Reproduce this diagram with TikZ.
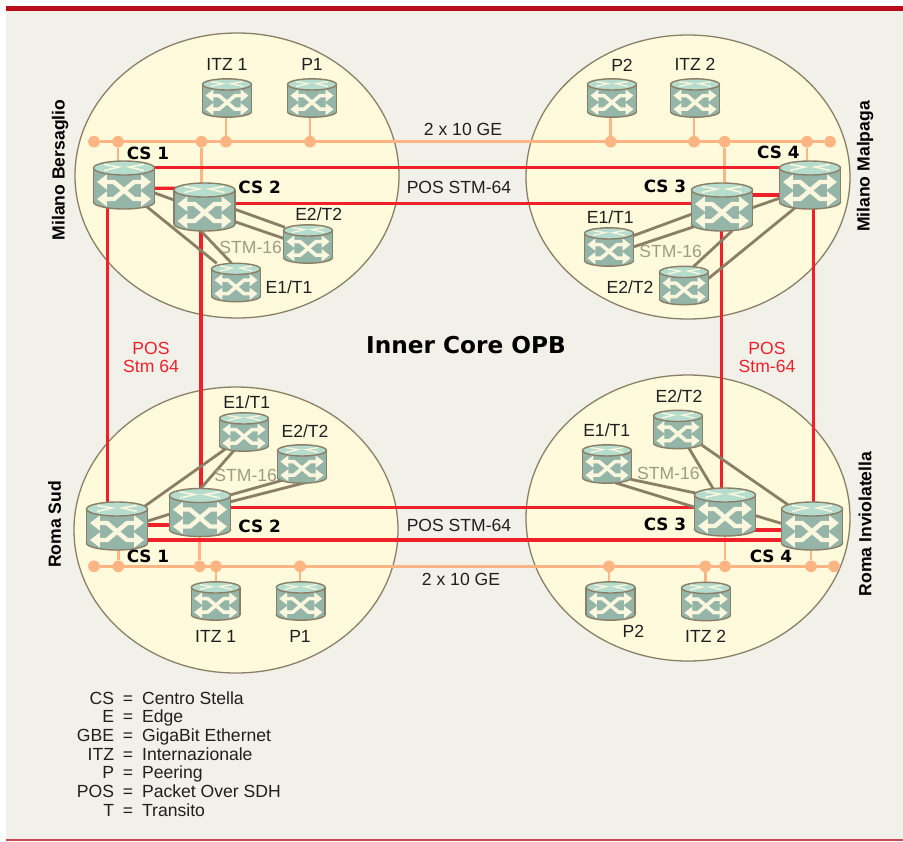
\documentclass[tikz,border=0pt]{standalone}
\usepackage{fontspec}
\setmainfont{Liberation Sans}
\newfontfamily\heavyfont{DejaVu Sans}
\usetikzlibrary{arrows.meta,calc}
\definecolor{paper}{HTML}{F1F0E9}
\definecolor{bar}{HTML}{B80D1A}
\definecolor{sand}{HTML}{FFFADC}
\definecolor{rim}{HTML}{8A7F66}
\definecolor{redl}{HTML}{F0202B}
\definecolor{orangel}{HTML}{FFB484}
\definecolor{body}{HTML}{95B5A9}
\definecolor{lid}{HTML}{B6DCCD}
\definecolor{cream}{HTML}{FAF7DE}
\definecolor{stm}{HTML}{A39A84}
\tikzset{
  area/.style={draw=rim,fill=sand,line width=1.1pt},
  redlink/.style={draw=redl,line width=2.8pt},
  buslink/.style={draw=orangel,line width=2.4pt},
  greylink/.style={draw=rim,line width=2.4pt},
  dot/.style={circle,fill=orangel,minimum size=3.5mm,inner sep=0pt},
  lab/.style={inner sep=0pt,text=black!88,font=\fontsize{15}{15}\selectfont},
  stmlab/.style={lab,text=stm},
  poslab/.style={lab,text=redl,align=center,font=\fontsize{15}{16}\selectfont},
  head/.style={inner sep=0pt,font=\heavyfont\bfseries\fontsize{14.4}{14.4}\selectfont},
  site/.style={inner sep=0pt,rotate=90,font=\bfseries\fontsize{15}{15}\selectfont},
  pics/router/.style={code={
    \begin{scope}[scale=#1]
      \draw[fill=body,draw=rim,line width=1.2pt] (0,17) ellipse (30.5 and 7);
      \fill[body] (-30.5,-17) rectangle (30.5,17);
      \draw[rim,line width=1.2pt] (-30.5,-17) -- (-30.5,17) (30.5,-17) -- (30.5,17);
      \draw[fill=lid,draw=rim,line width=1.2pt] (0,-17) ellipse (30.5 and 7);
      \draw[cream,line width=#1*3.8pt,{Triangle[length=8.5pt,width=12.5pt,scale=#1]}-{Triangle[length=8.5pt,width=12.5pt,scale=#1]}] (-27,-3) -- (-10,-3) -- (10,14) -- (27,14);
      \draw[cream,line width=#1*3.8pt,{Triangle[length=8.5pt,width=12.5pt,scale=#1]}-{Triangle[length=8.5pt,width=12.5pt,scale=#1]}] (-27,14) -- (-10,14) -- (10,-3) -- (27,-3);
      \draw[cream,line width=#1*1.3pt] (-20,-20.5) -- (-5,-18) -- (-20,-14.5);
      \draw[cream,line width=#1*1.3pt] (20,-20.5) -- (5,-18) -- (20,-14.5);
    \end{scope}
  }}
}

\begin{document}
\begin{tikzpicture}[x=0.3mm,y=-0.3mm]

  \useasboundingbox (0,0) rectangle (903,841);
  \fill[white] (0,0) rectangle (903,841);
  \fill[paper] (6,6) rectangle (903,841);
  \fill[bar] (6,6) rectangle (903,11);
  \fill[bar!75] (6,839) rectangle (903,841);

  \draw[area] (237,175.5) ellipse (162 and 142.5);
  \draw[area] (688,177) ellipse (162 and 142);
  \draw[area] (236,530) ellipse (162 and 143);
  \draw[area] (688,518) ellipse (162 and 143);

  % Milano Bersaglio
  \node[] (MB1) at (124,185) {};
  \node[] (MB2) at (204.5,207) {};
  \node[] (MBi) at (227,98) {};
  \node[] (MBp) at (312,98) {};
  \node[] (MBe1) at (236,282.5) {};
  \node[] (MBe2) at (308,244) {};

  % Milano Malpaga
  \node[] (MM3) at (722,207) {};
  \node[] (MM4) at (810,185) {};
  \node[] (MMi) at (695,98) {};
  \node[] (MMp) at (612,98) {};
  \node[] (MMe1) at (609,247) {};
  \node[] (MMe2) at (684,285.5) {};

  % Roma Sud
  \node[] (RS1) at (117,526) {};
  \node[] (RS2) at (200,512.5) {};
  \node[] (RSi) at (215.7,601) {};
  \node[] (RSp) at (300.7,601) {};
  \node[] (RSe1) at (244,432) {};
  \node[] (RSe2) at (302,464) {};

  % Roma Inviolatella
  \node[] (RI3) at (725,512) {};
  \node[] (RI4) at (812,526) {};
  \node[] (RIi) at (706,601.5) {};
  \node[] (RIp) at (610.5,601) {};
  \node[] (RIe1) at (607,464) {};
  \node[] (RIe2) at (678,429.5) {};

  % upper bus
  \node[dot] (T1) at (94,141.7) {};
  \node[dot] (T2) at (118,141.7) {};
  \node[dot] (T3) at (201.5,141.7) {};
  \node[dot] (T4) at (226,141.7) {};
  \node[dot] (T5) at (310,141.7) {};
  \node[dot] (T6) at (610.7,141.7) {};
  \node[dot] (T7) at (694,141.7) {};
  \node[dot] (T8) at (724.7,141.7) {};
  \node[dot] (T9) at (807,141.7) {};
  \node[dot] (T10) at (830,141.7) {};

  % lower bus
  \node[dot] (B1) at (94,566.3) {};
  \node[dot] (B2) at (118.3,566.3) {};
  \node[dot] (B3) at (199.7,566.3) {};
  \node[dot] (B4) at (216,566.3) {};
  \node[dot] (B5) at (300,566.3) {};
  \node[dot] (B6) at (609,566.3) {};
  \node[dot] (B7) at (705.3,566.3) {};
  \node[dot] (B8) at (725,566.3) {};
  \node[dot] (B9) at (811,566.3) {};
  \node[dot] (B10) at (834,566.3) {};

  \draw[buslink] (T1) -- (T10);
  \draw[buslink] (T2) -- (T2 |- MB1);
  \draw[buslink] (T3) -- (T3 |- MB2);
  \draw[buslink] (T4) -- (T4 |- MBi);
  \draw[buslink] (T5) -- (T5 |- MBp);
  \draw[buslink] (T6) -- (T6 |- MMp);
  \draw[buslink] (T7) -- (T7 |- MMi);
  \draw[buslink] (T8) -- (T8 |- MM3);
  \draw[buslink] (T9) -- (T9 |- MM4);

  \draw[buslink] (B1) -- (B10);
  \draw[buslink] (B2) -- (B2 |- RS1);
  \draw[buslink] (B3) -- (B3 |- RS2);
  \draw[buslink] (B4) -- (B4 |- RSi);
  \draw[buslink] (B5) -- (B5 |- RSp);
  \draw[buslink] (B6) -- (B6 |- RIp);
  \draw[buslink] (B7) -- (B7 |- RIi);
  \draw[buslink] (B8) -- (B8 |- RI3);
  \draw[buslink] (B9) -- (B9 |- RI4);

  \draw[redlink] ($(MB1)+(0,-17.3)$) -- ($(MM4)+(0,-17.3)$);
  \draw[redlink] ($(MB2)+(0,-3.5)$) -- ($(MM3)+(0,-3.5)$);
  \draw[redlink] ($(MB1)+(0,3.3)$) -- ($(MB2)+(0,-18.7)$);
  \draw[redlink] ($(MM3)+(0,-12)$) -- ($(MM4)+(0,10)$);
  \draw[redlink] ($(RS2)+(0,-5)$) -- ($(RI3)+(0,-4.5)$);
  \draw[redlink] ($(RS1)+(0,14)$) -- ($(RI4)+(0,14)$);
  \draw[redlink] ($(RS1)+(0,-1)$) -- ($(RS2)+(0,12.5)$);
  \draw[redlink] ($(RI3)+(0,18)$) -- ($(RI4)+(0,4)$);
  \draw[redlink] ($(MB1)+(-16.7,0)$) -- ($(RS1)+(-9.7,0)$);
  \draw[redlink] ($(MB2)+(-3.5,0)$) -- ($(RS2)+(1,0)$);
  \draw[redlink] ($(MM3)+(-0.3,0)$) -- ($(RI3)+(-3.3,0)$);
  \draw[redlink] ($(MM4)+(3.7,0)$) -- ($(RI4)+(1.7,0)$);

  \draw[greylink] ($(MB1)+(30,7.7)$) -- ($(MB2)+(-30.5,-7)$);
  \draw[greylink] ($(MB1)+(22,21)$) -- ($(MBe1)+(-19.3,-19.2)$);
  \draw[greylink] ($(MB2)+(-4.5,23)$) -- ($(MBe1)+(-4.3,-19.2)$);
  \draw[greylink] ($(MB2)+(30.5,2.3)$) -- ($(MBe2)+(-23,-16.7)$);
  \draw[greylink] ($(MB2)+(30.5,14.7)$) -- ($(MBe2)+(-24.7,-5.7)$);

  \draw[greylink] ($(MM3)+(30.3,0.7)$) -- ($(MM4)+(-30.7,13.3)$);
  \draw[greylink] ($(MM3)+(-30.7,7.3)$) -- ($(MMe1)+(24.3,-11.3)$);
  \draw[greylink] ($(MM3)+(-28,19.7)$) -- ($(MMe1)+(25,-0.3)$);
  \draw[greylink] ($(MM3)+(10.3,23.7)$) -- ($(MMe2)+(8.7,-18.2)$);
  \draw[greylink] ($(MM4)+(-14.3,22.3)$) -- ($(MMe2)+(24.7,-7.2)$);

  \draw[greylink] ($(RIe2)+(11,18.8)$) -- ($(RI3)+(-11.7,-23)$);
  \draw[greylink] ($(RIe2)+(23.7,15.5)$) -- ($(RI4)+(-23.7,-21)$);
  \draw[greylink] ($(RIe1)+(23.7,15.3)$) -- ($(RI3)+(-28.3,-18.7)$);
  \draw[greylink] ($(RIe1)+(8,18.7)$) -- ($(RI3)+(-30,-4.7)$);
  \draw[greylink] ($(RI3)+(30.7,3.7)$) -- ($(RI4)+(-31,-2.7)$);

  \draw[greylink] ($(RS1)+(27,-19.3)$) -- ($(RSe1)+(-19,17.3)$);
  \draw[greylink] ($(RS2)+(0,-23.2)$) -- ($(RSe1)+(-9.7,18)$);
  \draw[greylink] ($(RS2)+(30,-17.5)$) -- ($(RSe2)+(-18.7,16)$);
  \draw[greylink] ($(RS2)+(30.7,-10.8)$) -- ($(RSe2)+(3,18.7)$);
  \draw[greylink] ($(RS1)+(30.7,-5)$) -- ($(RS2)+(-30,1.5)$);

  \pic at (MB1) {router=1};
  \pic at (MB2) {router=1};
  \pic at (MBi) {router=0.8};
  \pic at (MBp) {router=0.8};
  \pic at (MBe1) {router=0.8};
  \pic at (MBe2) {router=0.8};
  \pic at (MM3) {router=1};
  \pic at (MM4) {router=1};
  \pic at (MMi) {router=0.8};
  \pic at (MMp) {router=0.8};
  \pic at (MMe1) {router=0.8};
  \pic at (MMe2) {router=0.8};
  \pic at (RS1) {router=1};
  \pic at (RS2) {router=1};
  \pic at (RSi) {router=0.8};
  \pic at (RSp) {router=0.8};
  \pic at (RSe1) {router=0.8};
  \pic at (RSe2) {router=0.8};
  \pic at (RI3) {router=1};
  \pic at (RI4) {router=1};
  \pic at (RIi) {router=0.8};
  \pic at (RIp) {router=0.8};
  \pic at (RIe1) {router=0.8};
  \pic at (RIe2) {router=0.8};

  \node[site] (nMB) at (60,170) {Milano Bersaglio};
  \node[site] (nMM) at (865,166.5) {Milano Malpaga};
  \node[site] (nRS) at (54.5,524.5) {Roma Sud};
  \node[site] (nRI) at (865,524) {Roma Inviolatella};

  \node[lab] (lMBi) at (227,64) {ITZ 1};
  \node[lab] (lMBp) at (312,64) {P1};
  \node[head] (lMB1) at (148,153) {CS 1};
  \node[head] (lMB2) at (259.7,187) {CS 2};
  \node[lab] (lMBe2) at (318.7,214) {E2/T2};
  \node[lab] (lMBe1) at (289,287) {E1/T1};
  \node[stmlab] (sMB) at (250.7,247) {STM-16};

  \node[lab] (lMMp) at (622,65.5) {P2};
  \node[lab] (lMMi) at (695,64) {ITZ 2};
  \node[head] (lMM4) at (778.3,152.7) {CS 4};
  \node[head] (lMM3) at (665,186) {CS 3};
  \node[lab] (lMMe1) at (610.3,217) {E1/T1};
  \node[lab] (lMMe2) at (630,287.3) {E2/T2};
  \node[stmlab] (sMM) at (670.7,251.7) {STM-16};

  \node[lab] (lRSe1) at (246.7,402.7) {E1/T1};
  \node[lab] (lRSe2) at (305,431) {E2/T2};
  \node[stmlab] (sRS) at (245.7,475) {STM-16};
  \node[head] (lRS2) at (259.7,526.7) {CS 2};
  \node[head] (lRS1) at (148,556.7) {CS 1};
  \node[lab] (lRSi) at (215.7,636.7) {ITZ 1};
  \node[lab] (lRSp) at (300,636.7) {P1};

  \node[lab] (lRIe2) at (679,396) {E2/T2};
  \node[lab] (lRIe1) at (606.7,430) {E1/T1};
  \node[stmlab] (sRI) at (668.3,473.3) {STM-16};
  \node[head] (lRI3) at (665,524.3) {CS 3};
  \node[head] (lRI4) at (771,556.3) {CS 4};
  \node[lab] (lRIp) at (633.3,631.7) {P2};
  \node[lab] (lRIi) at (705.7,636.7) {ITZ 2};

  \node[lab] (top10) at (463,129) {2 x 10 GE};
  \node[lab] (topPOS) at (459,187) {POS STM-64};
  \node[lab] (botPOS) at (459,525) {POS STM-64};
  \node[lab] (bot10) at (461,579) {2 x 10 GE};
  \node[poslab] (leftPOS) at (151,357.5) {POS\\Stm 64};
  \node[poslab] (rightPOS) at (767,357.5) {POS\\Stm-64};
  \node[inner sep=0pt,font=\heavyfont\bfseries\fontsize{19.8}{19.8}\selectfont] (title) at (466,345) {Inner Core OPB};

  \node[lab,anchor=north west,font=\fontsize{15}{15.9}\selectfont] (legend) at (76.7,691) {%
    \setlength{\tabcolsep}{0pt}\renewcommand{\arraystretch}{1}%
    \begin{tabular}{r@{\hspace{7.6pt}=\hspace{7.6pt}}l}
      CS & Centro Stella\\
      E & Edge\\
      GBE & GigaBit Ethernet\\
      ITZ & Internazionale\\
      P & Peering\\
      POS & Packet Over SDH\\
      T & Transito
    \end{tabular}};

\end{tikzpicture}
\end{document}
